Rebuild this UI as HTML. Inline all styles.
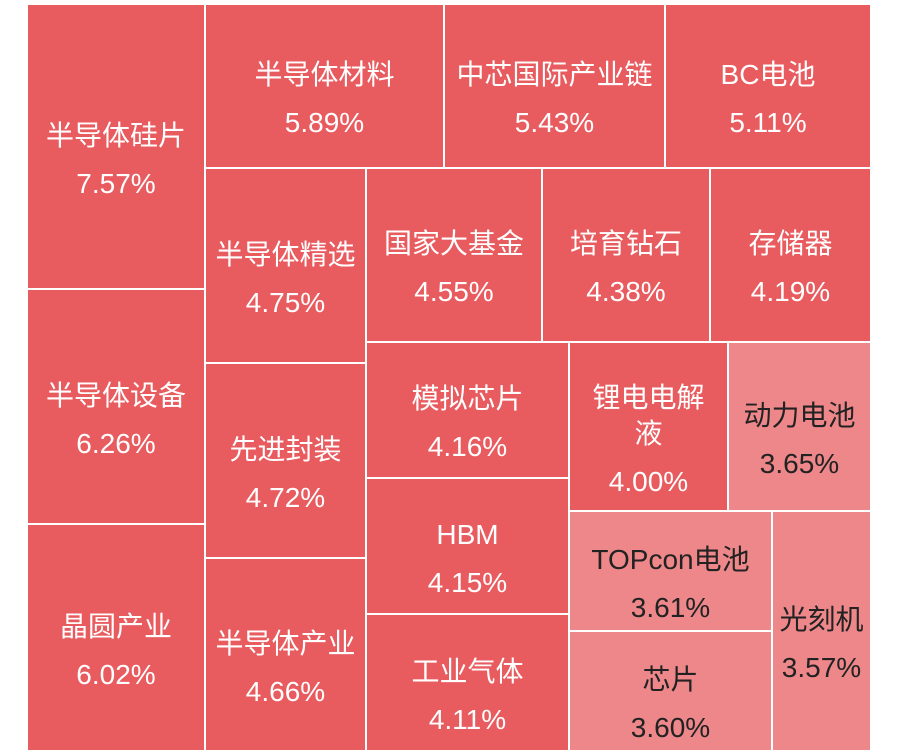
<!DOCTYPE html><html><head><meta charset="utf-8"><style>
body{margin:0;width:900px;height:752px;background:#fff;position:relative;overflow:hidden;font-family:"Liberation Sans","Noto Sans CJK SC",sans-serif}
.c{position:absolute;background:#e85b5f;color:#fff;display:flex;flex-direction:column;justify-content:center;align-items:center;text-align:center;font-size:28px;line-height:36px;box-sizing:border-box;padding:26px 4px 0}
.c span{display:block;margin:6px 0}
.l{background:#ed878a;color:#222}
</style></head><body>
<div class="c" style="left:28px;top:5px;width:176px;height:283px"><span>半导体硅片</span><span>7.57%</span></div>
<div class="c" style="left:28px;top:290px;width:176px;height:233px"><span>半导体设备</span><span>6.26%</span></div>
<div class="c" style="left:28px;top:525px;width:176px;height:225px"><span>晶圆产业</span><span>6.02%</span></div>
<div class="c" style="left:206px;top:5px;width:237px;height:162px"><span>半导体材料</span><span>5.89%</span></div>
<div class="c" style="left:445px;top:5px;width:219px;height:162px"><span>中芯国际产业链</span><span>5.43%</span></div>
<div class="c" style="left:666px;top:5px;width:204px;height:162px"><span>BC电池</span><span>5.11%</span></div>
<div class="c" style="left:206px;top:169px;width:159px;height:193px"><span>半导体精选</span><span>4.75%</span></div>
<div class="c" style="left:206px;top:364px;width:159px;height:193px"><span>先进封装</span><span>4.72%</span></div>
<div class="c" style="left:206px;top:559px;width:159px;height:191px"><span>半导体产业</span><span>4.66%</span></div>
<div class="c" style="left:367px;top:169px;width:174px;height:172px"><span>国家大基金</span><span>4.55%</span></div>
<div class="c" style="left:543px;top:169px;width:166px;height:172px"><span>培育钻石</span><span>4.38%</span></div>
<div class="c" style="left:711px;top:169px;width:159px;height:172px"><span>存储器</span><span>4.19%</span></div>
<div class="c" style="left:367px;top:343px;width:201px;height:134px"><span>模拟芯片</span><span>4.16%</span></div>
<div class="c" style="left:367px;top:479px;width:201px;height:134px"><span>HBM</span><span>4.15%</span></div>
<div class="c" style="left:367px;top:615px;width:201px;height:135px"><span>工业气体</span><span>4.11%</span></div>
<div class="c" style="left:570px;top:343px;width:157px;height:167px;padding:26px 12px 0"><span>锂电电解液</span><span>4.00%</span></div>
<div class="c l" style="left:729px;top:343px;width:141px;height:167px"><span>动力电池</span><span>3.65%</span></div>
<div class="c l" style="left:570px;top:512px;width:201px;height:118px"><span>TOPcon电池</span><span>3.61%</span></div>
<div class="c l" style="left:570px;top:632px;width:201px;height:118px"><span>芯片</span><span>3.60%</span></div>
<div class="c l" style="left:773px;top:512px;width:97px;height:238px;padding:26px 0 0"><span>光刻机</span><span>3.57%</span></div>
</body></html>
